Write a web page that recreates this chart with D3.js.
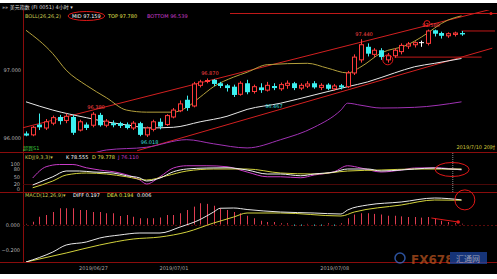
<!DOCTYPE html>
<html><head><meta charset="utf-8">
<script src="https://cdn.jsdelivr.net/npm/d3@7"></script>
<style>
body{margin:0;background:#fff;}
svg{display:block;}
text{font-family:"DejaVu Sans","Noto Sans CJK SC",sans-serif;}
</style>
</head><body>
<svg id="c" width="497" height="279"></svg>
<script>
// ---------- DATA ----------
const open  = [96.07,96.05,96.20,96.15,96.22,96.31,96.26,96.31,96.12,96.20, 96.19,96.34,96.19,96.22,96.22,96.20,96.15,96.22,96.05,96.13, 96.24,96.20,96.31,96.40,96.56,96.47,96.77,96.83,96.85,96.80, 96.77,96.75,96.64,96.80,96.68,96.74,96.70,96.76,96.72,96.77, 96.80,96.73,96.76,96.80,96.74,96.78,96.72,96.77,96.75,96.95, 97.14,97.33,97.22,97.28,97.14,97.20,97.26,97.34,97.36,97.39, 97.38,97.57,97.53,97.49,97.51,97.53];
const high  = [96.10,96.18,96.36,96.28,96.33,96.34,96.36,96.34,96.27,96.23, 96.38,96.37,96.28,96.26,96.24,96.23,96.25,96.24,96.17,96.27, 96.29,96.35,96.44,96.55,96.62,96.82,96.85,96.87,96.86,96.82, 96.79,96.78,96.83,96.85,96.78,96.80,96.82,96.80,96.81,96.84, 96.82,96.80,96.83,96.83,96.80,96.80,96.79,96.79,96.98,97.22, 97.44,97.38,97.31,97.31,97.24,97.31,97.38,97.40,97.41,97.42, 97.58,97.58,97.55,97.54,97.55,97.56];
const low   = [96.03,96.03,96.12,96.12,96.19,96.20,96.22,96.05,96.10,96.12, 96.16,96.17,96.16,96.16,96.15,96.13,96.12,96.03,96.02,96.10, 96.13,96.18,96.29,96.38,96.40,96.45,96.74,96.80,96.76,96.73, 96.68,96.60,96.62,96.64,96.65,96.66,96.68,96.70,96.69,96.72, 96.70,96.70,96.73,96.72,96.70,96.70,96.69,96.71,96.73,96.92, 97.10,97.19,97.18,97.14,97.10,97.17,97.22,97.30,97.32,97.33, 97.35,97.48,97.45,97.46,97.48,97.49];
const close = [96.04,96.16,96.16,96.24,96.30,96.25,96.32,96.08,96.24,96.15, 96.35,96.19,96.25,96.19,96.18,96.15,96.22,96.05,96.15,96.24, 96.17,96.33,96.41,96.50,96.44,96.79,96.82,96.84,96.79,96.76, 96.73,96.63,96.80,96.67,96.75,96.70,96.77,96.73,96.78,96.80, 96.73,96.77,96.79,96.74,96.77,96.72,96.76,96.74,96.95,97.18, 97.36,97.23,97.28,97.18,97.20,97.28,97.35,97.37,97.39,97.39, 97.56,97.52,97.49,97.52,97.53,97.51];

// BOLL bands (bar index, value)
const bollTopIdx = [0,4,6,9,12,15,18,22,24,26,28,31,33,36,42,45,48,50,53,57,59,63,65];
const bollTopVal = [97.57,97.23,96.99,96.77,96.59,96.41,96.38,96.38,96.45,96.60,96.75,96.89,96.96,97.07,97.09,97.02,96.95,97.04,97.24,97.36,97.47,97.72,97.78];
const bollMidIdx = [0,4,9,12,16,18,22,26,30,33,38,43,48,51,55,58,61,65];
const bollMidVal = [96.53,96.41,96.30,96.24,96.18,96.15,96.16,96.24,96.32,96.42,96.51,96.63,96.75,96.82,96.95,97.04,97.09,97.16];
const bollBotIdx = [10,12,18,24,28,33,38,43,47,48,50,53,58,65];
const bollBotVal = [95.78,95.83,95.87,95.98,95.92,95.86,95.98,96.16,96.41,96.51,96.48,96.44,96.45,96.53];

// hand-drawn trend channel (bar index, price)
const trendAIdx = [-0.6,69.2], trendAVal = [96.15,97.87];
const trendBIdx = [16.6,69.6], trendBVal = [95.82,97.31];
const hLineIdx = [[55,68],[65,70]], hLineVal = [97.18,97.56];

// high/low marks
const markBars = [10,27,50,60], markTexts = ["96.380","96.870","97.440","97.580"];
const lowMarkBars = [18], lowMarkTexts = ["96.018"];
const midMarkBar = 37, midMarkText = "96.467";

// KDJ
const kIdx = [1,4,6,8,10,13,15,17,18,20,22,24,27,30,33,36,38,41,43,46,48,51,53,56,58,61,63,65];
const kVal = [16,49,72,72,68,64,53,44,32,44,69,80,84,85,76,60,60,53,60,68,80,80,72,76,80,84,80,78.6];
const dIdx = [1,4,6,9,12,15,18,21,24,28,33,38,43,48,53,58,65];
const dVal = [5,32,56,64,60,49,36,53,72,80,80,64,60,72,76,80,79.8];
const jIdx = [1,3,5,7,9,11,14,17,18,20,22,24,27,30,33,36,38,41,43,46,48,50,53,56,58,61,65];
const jVal = [44,89,98,98,85,76,64,36,20,49,84,93,93,89,68,49,49,45,56,69,93,84,68,76,84,85,76.1];

// MACD
const diffIdx = [0,4,6,9,11,14,17,20,23,26,28,29,31,33,38,43,47,48,51,56,61,65];
const diffVal = [-0.30,-0.22,-0.164,-0.14,-0.108,-0.084,-0.068,-0.068,-0.02,0.04,0.10,0.13,0.132,0.12,0.10,0.092,0.084,0.116,0.156,0.18,0.212,0.197];
const deaIdx = [0,6,11,16,20,24,28,31,33,38,47,49,56,61,65];
const deaVal = [-0.30,-0.228,-0.164,-0.116,-0.10,-0.06,0.012,0.06,0.092,0.092,0.068,0.10,0.156,0.196,0.194];
const macdHist = [0.005,0.022,0.062,0.076,0.10,0.13,0.13,0.13,0.116,0.116, 0.10,0.10,0.09,0.09,0.068,0.076,0.062,0.05,0.05,0.05, 0.056,0.076,0.076,0.09,0.116,0.143,0.17,0.165,0.15,0.13, 0.116,0.10,0.09,0.07,0.05,0.03,0.02,0.02,0.01,0.01, -0.01,-0.01,0.005,-0.01,-0.01,0.01,-0.01,0.01,0.05,0.08, 0.09,0.09,0.085,0.08,0.07,0.07,0.065,0.06,0.06,0.055, 0.06,0.05,0.03,0.02,0.01,0.006];

const priceTicks = [96,97], kdjTicks = [0,20,50,80,100], macdTicks = [-0.2,0];
const dateBars = [10,22,46], dateLabels = ["2019/06/27","2019/07/01","2019/07/08"];

// ---------- DRAW ----------
const svg = d3.select("#c");
const RED = "#8a0c0c", UP = "#ff3b3b", DOWN = "#3cf0f0";
svg.append("rect").attr("x",0).attr("y",3).attr("width",497).attr("height",271).attr("fill","#000");

const x = d3.scaleLinear().domain([0,65]).range([26,461.5]);
const yP = d3.scaleLinear().domain([96,97]).range([138.3,69.5]);
const yK = d3.scaleLinear().domain([0,100]).range([189,164]);
const yM = d3.scaleLinear().domain([-0.2,0]).range([249.5,224.5]);

const defs = svg.append("defs");
function clip(id,y0,y1){defs.append("clipPath").attr("id",id).append("rect").attr("x",23).attr("y",y0).attr("width",474).attr("height",y1-y0);}
clip("cm",10,152); clip("ck",153,192); clip("cd",193,262);

// frames
const fr = svg.append("g").attr("stroke",RED).attr("stroke-width",1);
fr.append("line").attr("x1",23.5).attr("x2",23.5).attr("y1",10).attr("y2",262);
[152.5,192.5,262.5].forEach(y=>fr.append("line").attr("x1",0).attr("x2",497).attr("y1",y).attr("y2",y));
fr.append("line").attr("x1",23).attr("x2",497).attr("y1",Math.round(yK(20))+0.5).attr("y2",Math.round(yK(20))+0.5).attr("stroke","#4a0808");
fr.append("line").attr("x1",23).attr("x2",497).attr("y1",Math.round(yM(0))+0.5).attr("y2",Math.round(yM(0))+0.5).attr("stroke","#5a0a0a").attr("stroke-dasharray","2,2");

// axes
function axis(scale,ticks,fmt,xpos){
  const g = svg.append("g").attr("transform",`translate(${xpos},0)`)
    .call(d3.axisLeft(scale).tickValues(ticks).tickFormat(fmt).tickSize(0).tickPadding(0));
  g.select(".domain").remove();
  g.selectAll("text").attr("fill","#b8b8b8").attr("font-size",5);
}
axis(yP,priceTicks,d3.format(".3f"),21);
axis(yK,kdjTicks,d3.format("d"),20);
axis(yM,macdTicks,d3.format(".3f"),20);

const xd = svg.append("g").attr("transform","translate(0,264)")
  .call(d3.axisBottom(x).tickValues(dateBars).tickFormat((d,i)=>dateLabels[i]).tickSize(0).tickPadding(2));
xd.select(".domain").remove();
xd.selectAll("text").attr("fill","#a8a8a8").attr("font-size",5);

// header
svg.append("text").attr("x",2).attr("y",9).attr("fill","#ddd").attr("font-size",5).text("»» 美元指数 (FI 0051)    4小时 ▾");
const lg = [["BOLL(26,26,2)",25,"#c8c850"],["MID 97.159",72,"#ffffff"],["TOP 97.780",108,"#e6e650"],["BOTTOM 96.539",147,"#c83cc8"]];
let midText;
lg.forEach(l=>{const t=svg.append("text").attr("x",l[1]).attr("y",18).attr("fill",l[2]).attr("font-size",5).text(l[0]); if(l[0].startsWith("MID")) midText=t;});
const kl = [["KDJ(9,3,3)▾",25,"#c8c850"],["K 78.555",66,"#ffffff"],["D 79.778",92,"#e6e650"],["J 76.110",118,"#c83cc8"]];
kl.forEach(l=>svg.append("text").attr("x",l[1]).attr("y",159).attr("fill",l[2]).attr("font-size",5).text(l[0]));
const ml = [["MACD(12,26,9)▾",25,"#c8c850"],["DIFF 0.197",73,"#ffffff"],["DEA 0.194",107,"#e6e650"],["0.006",137,"#ffffff"]];
ml.forEach(l=>svg.append("text").attr("x",l[1]).attr("y",197).attr("fill",l[2]).attr("font-size",5).text(l[0]));
svg.append("text").attr("x",23).attr("y",150).attr("fill","#3cc83c").attr("font-size",5).text("超買S1");

// main panel
const gm = svg.append("g").attr("clip-path","url(#cm)");
gm.append("line").attr("x1",230).attr("x2",497).attr("y1",13.5).attr("y2",13.5).attr("stroke","#c01818");
const line = (xs,ys,sy)=> d3.line().curve(d3.curveMonotoneX).x((d,i)=>x(xs[i])).y((d,i)=>sy(ys[i]))(xs);
function path(g,xs,ys,sy,col,w){g.append("path").attr("d",line(xs,ys,sy)).attr("fill","none").attr("stroke",col).attr("stroke-width",w||1);}
// trend channel
[[trendAIdx,trendAVal],[trendBIdx,trendBVal]].forEach(t=>gm.append("line")
  .attr("x1",x(t[0][0])).attr("y1",yP(t[1][0])).attr("x2",x(t[0][1])).attr("y2",yP(t[1][1]))
  .attr("stroke","#d22020").attr("stroke-width",1));
hLineIdx.forEach((r,i)=>gm.append("line").attr("x1",x(r[0])).attr("x2",x(r[1])).attr("y1",yP(hLineVal[i])).attr("y2",yP(hLineVal[i])).attr("stroke","#c01818"));
path(gm,bollTopIdx,bollTopVal,yP,"#b4a03c");
path(gm,bollMidIdx,bollMidVal,yP,"#e8e8e8");
path(gm,bollBotIdx,bollBotVal,yP,"#a032b4");

// candles
const idx = open.map((d,i)=>i);
const cg = gm.append("g");
idx.forEach(i=>{
  const up = close[i]>open[i], dn = close[i]<open[i];
  const col = up?UP:(dn?DOWN:"#ffffff");
  const cx = Math.round(x(i))+0.5;
  cg.append("line").attr("x1",cx).attr("x2",cx).attr("y1",yP(high[i])).attr("y2",yP(low[i])).attr("stroke",col);
  const top = yP(Math.max(open[i],close[i])), bot = yP(Math.min(open[i],close[i]));
  const h = Math.max(1,bot-top);
  if(up) cg.append("rect").attr("x",cx-2).attr("y",top).attr("width",4).attr("height",h).attr("fill","#000").attr("stroke",col);
  else if(dn) cg.append("rect").attr("x",cx-2.5).attr("y",top).attr("width",5).attr("height",h).attr("fill",col);
  else cg.append("line").attr("x1",cx-2.5).attr("x2",cx+2.5).attr("y1",top).attr("y2",top).attr("stroke",col);
});
markBars.forEach((b,i)=>gm.append("text").attr("x",x(b)+3).attr("y",yP(high[b])-3).attr("text-anchor","middle").attr("fill","#ff4444").attr("font-size",5).text(markTexts[i]));
lowMarkBars.forEach((b,i)=>gm.append("text").attr("x",x(b)+3).attr("y",yP(low[b])+7).attr("text-anchor","middle").attr("fill","#3cdcdc").attr("font-size",5).text(lowMarkTexts[i]));
gm.append("text").attr("x",x(midMarkBar)).attr("y",yP(bollMidVal[10])+5).attr("text-anchor","middle").attr("fill","#3cdcdc").attr("font-size",5).text(midMarkText);

// annotations (red circles)
const bb = midText.node().getBBox();
svg.append("ellipse").attr("cx",bb.x+bb.width/2).attr("cy",bb.y+bb.height/2).attr("rx",bb.width/2+4).attr("ry",bb.height/2+1.5).attr("fill","none").attr("stroke","#e01818");
gm.append("circle").attr("cx",x(54)).attr("cy",yP((high[54]+low[54])/2)+2).attr("r",5).attr("fill","none").attr("stroke","#e01818");
gm.append("circle").attr("cx",x(60)-1).attr("cy",yP(high[60])-6).attr("r",3).attr("fill","none").attr("stroke","#e01818");
svg.append("text").attr("x",495).attr("y",149).attr("text-anchor","end").attr("fill","#d2c83c").attr("font-size",5).text("2019/7/10 20时");
svg.append("circle").attr("cx",491).attr("cy",13.5).attr("r",1.5).attr("fill","#e01818");

// KDJ
const gk = svg.append("g").attr("clip-path","url(#ck)");
gk.append("line").attr("x1",x(63.7)).attr("x2",x(63.7)).attr("y1",145).attr("y2",192).attr("stroke","#888").attr("stroke-dasharray","1,1");
path(gk,jIdx,jVal,yK,"#c83cc8");
path(gk,dIdx,dVal,yK,"#d2d23c");
path(gk,kIdx,kVal,yK,"#f0f0f0");
svg.append("ellipse").attr("cx",x(63.6)).attr("cy",yK(78)).attr("rx",17).attr("ry",7).attr("fill","none").attr("stroke","#e01818");

// MACD
const gd = svg.append("g").attr("clip-path","url(#cd)");
idx.forEach(i=>{
  const v = macdHist[i], cx = Math.round(x(i))+0.5;
  gd.append("line").attr("x1",cx).attr("x2",cx).attr("y1",yM(0)).attr("y2",yM(v)).attr("stroke",v>=0?"#e03c50":"#3cc8c8");
});
path(gd,deaIdx,deaVal,yM,"#d2d23c");
path(gd,diffIdx,diffVal,yM,"#e8e8e8");
svg.append("circle").attr("cx",x(65.5)).attr("cy",yM(0.197)).attr("r",10).attr("fill","none").attr("stroke","#e01818");
svg.append("line").attr("x1",x(60.5)).attr("y1",yM(0.052)).attr("x2",x(64.5)).attr("y2",yM(0.02)).attr("stroke","#e01818");
svg.append("circle").attr("cx",x(64.5)).attr("cy",yM(0.02)).attr("r",1.8).attr("fill","#e01818");

// watermark
const wm = svg.append("g").attr("opacity",0.75);
wm.append("circle").attr("cx",400).attr("cy",258).attr("r",5).attr("fill","none").attr("stroke","#3c6ed2").attr("stroke-width",1.5);
wm.append("text").attr("x",411).attr("y",264).attr("fill","#b4501e").attr("font-size",12).attr("font-weight","bold").text("FX678");
wm.append("rect").attr("x",450).attr("y",252).attr("width",37).attr("height",12).attr("fill","#1e46a0");
wm.append("text").attr("x",468).attr("y",261.5).attr("text-anchor","middle").attr("fill","#c8d2f0").attr("font-size",8).text("汇通网");
</script>
</body></html>
